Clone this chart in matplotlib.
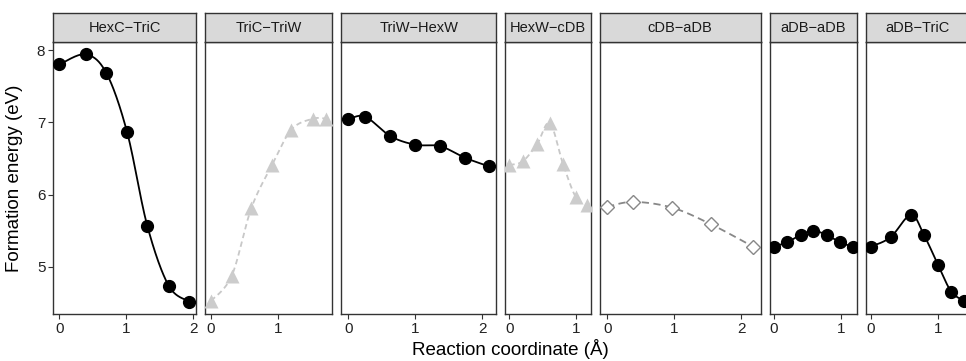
import numpy as np
import matplotlib
matplotlib.use('Agg')
import matplotlib.pyplot as plt

plt.rcParams['font.family'] = ['Liberation Sans', 'DejaVu Sans']

# Data (x in Angstrom, y in eV)
panels = ['HexC\u2212TriC', 'TriC\u2212TriW', 'TriW\u2212HexW', 'HexW\u2212cDB',
          'cDB\u2212aDB', 'aDB\u2212aDB', 'aDB\u2212TriC']

hexc_tric_x = [0.0, 0.39, 0.70, 1.01, 1.31, 1.63, 1.94]
hexc_tric_y = [7.80, 7.94, 7.68, 6.86, 5.57, 4.74, 4.52]

tric_triw_x = [0.0, 0.31, 0.60, 0.91, 1.20, 1.52, 1.72]
tric_triw_y = [4.53, 4.88, 5.81, 6.41, 6.90, 7.05, 7.05]

triw_hexw_x = [0.0, 0.25, 0.625, 1.00, 1.37, 1.74, 2.10]
triw_hexw_y = [7.04, 7.08, 6.81, 6.69, 6.67, 6.51, 6.39]

hexw_cdb_x = [0.0, 0.20, 0.415, 0.605, 0.80, 0.99, 1.155]
hexw_cdb_y = [6.41, 6.46, 6.70, 6.99, 6.43, 5.97, 5.85]

cdb_adb_x = [0.0, 0.39, 0.97, 1.55, 2.18]
cdb_adb_y = [5.83, 5.90, 5.82, 5.59, 5.28]

adb_adb_x = [0.0, 0.195, 0.40, 0.59, 0.795, 0.99, 1.18]
adb_adb_y = [5.28, 5.34, 5.44, 5.50, 5.44, 5.34, 5.28]

adb_tric_x = [0.0, 0.295, 0.60, 0.795, 1.01, 1.20, 1.395]
adb_tric_y = [5.28, 5.41, 5.72, 5.44, 5.02, 4.66, 4.53]

xs = [hexc_tric_x, tric_triw_x, triw_hexw_x, hexw_cdb_x, cdb_adb_x, adb_adb_x, adb_tric_x]
ys = [hexc_tric_y, tric_triw_y, triw_hexw_y, hexw_cdb_y, cdb_adb_y, adb_adb_y, adb_tric_y]
kinds = ['solid', 'tri', 'solid', 'tri', 'diamond', 'solid', 'solid']
xticks = [[0, 1, 2], [0, 1], [0, 1, 2], [0, 1], [0, 1, 2], [0, 1], [0, 1]]


def catmull_rom(x, y, n=30):
    p = np.column_stack([x, y]).astype(float)
    p = np.vstack([p[0], p, p[-1]])
    out = []
    t = np.linspace(0, 1, n)[:, None]
    for i in range(1, len(p) - 2):
        p0, p1, p2, p3 = p[i - 1], p[i], p[i + 1], p[i + 2]
        seg = 0.5 * ((2 * p1) + (-p0 + p2) * t + (2 * p0 - 5 * p1 + 4 * p2 - p3) * t ** 2
                     + (-p0 + 3 * p1 - 3 * p2 + p3) * t ** 3)
        out.append(seg)
    out = np.vstack(out)
    return out[:, 0], out[:, 1]


W, H = 966, 361
fig = plt.figure(figsize=(W / 100, H / 100), dpi=100)

all_y = np.concatenate([np.array(v) for v in ys])
ypad = 0.05 * (all_y.max() - all_y.min())
ylim = (all_y.min() - ypad, all_y.max() + ypad)

unit = 67.0   # pixels per Angstrom
gap = 9.3
left = 53.0
top, bottom, strip_top = 42.0, 314.0, 13.0

for i, name in enumerate(panels):
    x = np.array(xs[i])
    y = np.array(ys[i])
    xpad = 0.05 * (x.max() - x.min())
    xlim = (x.min() - xpad, x.max() + xpad)
    wpx = (xlim[1] - xlim[0]) * unit
    ax = fig.add_axes([left / W, 1 - bottom / H, wpx / W, (bottom - top) / H])
    sx = fig.add_axes([left / W, 1 - top / H, wpx / W, (top - strip_top) / H])
    left += wpx + gap

    cx, cy = catmull_rom(x, y)
    if kinds[i] == 'solid':
        ax.plot(cx, cy, color='black', lw=1.3, zorder=2)
        ax.plot(x, y, 'o', color='black', ms=8.5, zorder=3)
    elif kinds[i] == 'tri':
        ax.plot(cx, cy, color='#C8C8C8', lw=1.3, ls=(0, (3, 2)), zorder=2)
        ax.plot(x, y, '^', color='#CCCCCC', ms=9.5, mec='none', zorder=3)
    else:
        ax.plot(cx, cy, color='#888888', lw=1.3, ls=(0, (4, 2.5)), zorder=2)
        ax.plot(x, y, 'D', mfc='white', mec='#888888', mew=1.0, ms=7, zorder=3)

    ax.set_xlim(xlim)
    ax.set_ylim(ylim)
    ax.set_xticks(xticks[i])
    ax.tick_params(axis='x', length=3.5, width=0.8, color='#333333', labelsize=11,
                   labelcolor='#222222', pad=2)
    if i == 0:
        ax.set_yticks([5, 6, 7, 8])
        ax.tick_params(axis='y', length=3.5, width=0.8, color='#333333', labelsize=11,
                       labelcolor='#222222', pad=2)
    else:
        ax.set_yticks([])
    for s in ax.spines.values():
        s.set_color('#333333')
        s.set_linewidth(1.0)

    sx.set_xticks([])
    sx.set_yticks([])
    sx.set_facecolor('#D9D9D9')
    for s in sx.spines.values():
        s.set_color('#333333')
        s.set_linewidth(1.0)
    sx.text(0.5, 0.5, name, ha='center', va='center', fontsize=10.5,
            color='#1A1A1A', transform=sx.transAxes)

fig.text(15 / W, 1 - 178 / H, 'Formation energy (eV)', rotation=90,
         ha='center', va='center', fontsize=13.5)
fig.text(510 / W, 1 - 349 / H, 'Reaction coordinate (\u00c5)',
         ha='center', va='center', fontsize=13.5)

fig.savefig('out.png', dpi=100)
